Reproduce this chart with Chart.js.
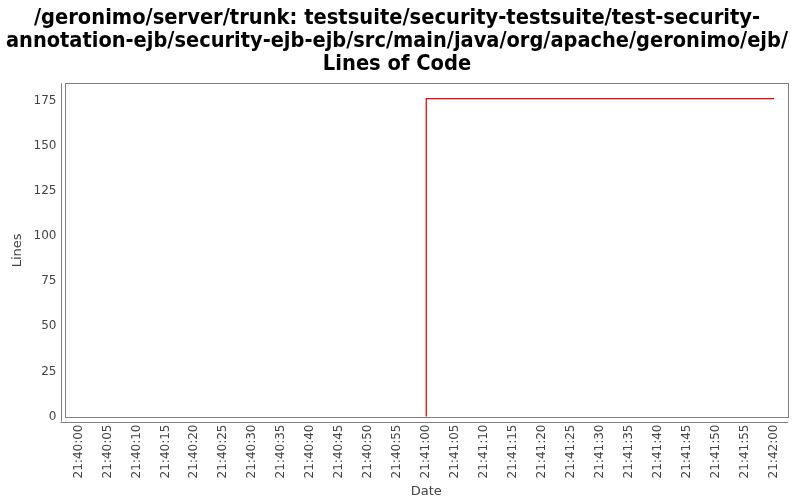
<!DOCTYPE html>
<html><head><meta charset="utf-8">
<script src="https://cdn.jsdelivr.net/npm/chart.js@4/dist/chart.umd.min.js"></script>
<style>html,body{margin:0;padding:0;background:#fff}#w{width:800px;height:500px}</style>
</head><body><div id="w"><canvas id="c"></canvas></div>
<script>
const titleLines = ["/geronimo/server/trunk: testsuite/security-testsuite/test-security-", "annotation-ejb/security-ejb-ejb/src/main/java/org/apache/geronimo/ejb/", "Lines of Code"];
// seconds after 21:40:00
const timesSec = [60, 60, 120];
const locValues = [0, 176, 176];
const yTicks = [0, 25, 50, 75, 100, 125, 150, 175];
const xTickSec = [0,5,10,15,20,25,30,35,40,45,50,55,60,65,70,75,80,85,90,95,100,105,110,115,120];

function fmt(s){const m=40+Math.floor(s/60), ss=s%60;return "21:"+m+":"+String(ss).padStart(2,"0");}

const frame = {
  id:'frame',
  afterDraw(ch){
    const a=ch.chartArea, c=ch.ctx;
    c.save();c.strokeStyle='#808080';c.lineWidth=1;
    c.strokeRect(Math.round(a.left)+0.5,Math.round(a.top)+0.5,Math.round(a.right-a.left),Math.round(a.bottom-a.top));
    c.beginPath();
    c.moveTo(Math.round(a.left)-3.5,a.top);c.lineTo(Math.round(a.left)-3.5,a.bottom+4);
    c.moveTo(a.left-4,Math.round(a.bottom)+4.5);c.lineTo(a.right,Math.round(a.bottom)+4.5);
    c.stroke();c.restore();
  }
};

new Chart(document.getElementById('c'),{
  type:'line',
  data:{datasets:[{data:timesSec.map((t,i)=>({x:t,y:locValues[i]})),borderColor:'#ff0000',borderWidth:1.3,pointRadius:0,fill:false,tension:0}]},
  options:{
    responsive:true,maintainAspectRatio:false,animation:false,
    layout:{padding:{left:6,right:12,top:3,bottom:1}},
    plugins:{legend:{display:false},tooltip:{enabled:false},
      title:{display:true,text:titleLines,color:'#000',font:{family:'"Liberation Sans Narrow","DejaVu Sans Condensed",sans-serif',size:21.7,weight:'bold',lineHeight:1.05},padding:{top:4,bottom:8}}},
    scales:{
      x:{type:'linear',min:-2.4,max:122.4,
        afterBuildTicks(s){s.ticks=xTickSec.map(v=>({value:v}));},
        ticks:{callback:v=>fmt(v),minRotation:90,maxRotation:90,autoSkip:false,color:'#444',font:{family:'"DejaVu Sans",sans-serif',size:12},padding:3},
        grid:{display:false,drawTicks:true,tickLength:4,color:'#808080'},border:{display:false},
        title:{display:true,text:'Date',color:'#444',font:{family:'"DejaVu Sans",sans-serif',size:13},padding:{top:2,bottom:0}}},
      y:{type:'linear',min:-0.5,max:184.5,
        afterBuildTicks(s){s.ticks=yTicks.map(v=>({value:v}));},
        ticks:{color:'#444',font:{family:'"DejaVu Sans",sans-serif',size:12},padding:4},
        grid:{display:false,drawTicks:true,tickLength:4,color:'#808080'},border:{display:false},
        title:{display:true,text:'Lines',color:'#444',font:{family:'"DejaVu Sans",sans-serif',size:13},padding:{bottom:4}}}
    }
  },
  plugins:[frame]
});
</script></body></html>
